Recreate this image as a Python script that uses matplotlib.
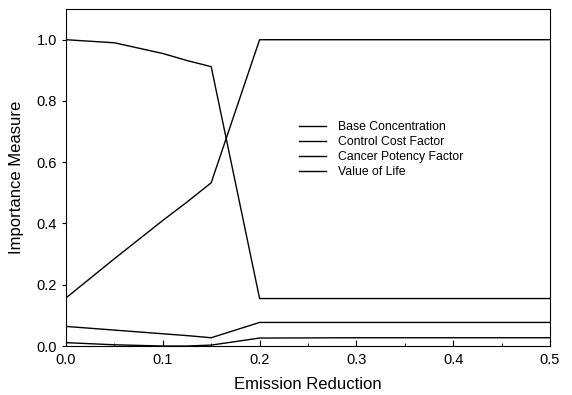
import numpy as np
import matplotlib.pyplot as plt
from matplotlib.ticker import MultipleLocator

plt.rcParams['font.family'] = ['Liberation Sans', 'DejaVu Sans']

# emission reduction levels
reduction = [0.0, 0.05, 0.1, 0.125, 0.15, 0.2, 0.3, 0.4, 0.5]

# importance measures
base_conc = [1.0, 0.99, 0.955, 0.932, 0.912, 0.155, 0.155, 0.155, 0.155]
control_cost = [0.157, 0.285, 0.41, 0.47, 0.533, 1.0, 1.0, 1.0, 1.0]
cancer_potency = [0.064, 0.052, 0.04, 0.034, 0.027, 0.077, 0.077, 0.077, 0.077]
value_of_life = [0.011, 0.004, 0.0, 0.0, 0.003, 0.026, 0.027, 0.027, 0.027]

labels = ['Base Concentration', 'Control Cost Factor',
          'Cancer Potency Factor', 'Value of Life']

fig = plt.figure(figsize=(5.72, 3.95), dpi=100)
ax = fig.add_axes([0.1154, 0.124, 0.8461, 0.853])

for series, lab in zip([base_conc, control_cost, cancer_potency, value_of_life], labels):
    ax.plot(reduction, series, color='black', lw=1.0, label=lab)

ax.set_xlim(0, 0.5)
ax.set_ylim(0, 1.1)
ax.xaxis.set_major_locator(MultipleLocator(0.1))
ax.xaxis.set_minor_locator(MultipleLocator(0.05))
ax.yaxis.set_major_locator(MultipleLocator(0.2))
ax.xaxis.set_major_formatter(plt.FormatStrFormatter('%.1f'))
ax.yaxis.set_major_formatter(plt.FormatStrFormatter('%.1f'))
ax.tick_params(axis='x', direction='in', length=4, labelsize=10.5, pad=5)
ax.tick_params(axis='x', which='minor', direction='in', length=2)
ax.tick_params(axis='y', direction='out', length=3, labelsize=10.5)
for sp in ax.spines.values():
    sp.set_linewidth(0.8)

ax.set_xlabel('Emission Reduction', fontsize=12, labelpad=7)
ax.set_ylabel('Importance Measure', fontsize=12, labelpad=9)

ax.legend(loc='upper left', bbox_to_anchor=(0.472, 0.682), frameon=False,
          fontsize=8.8, handlelength=2.15, handletextpad=1.05,
          labelspacing=0.25, borderaxespad=0)

fig.savefig('out.png', dpi=100)
